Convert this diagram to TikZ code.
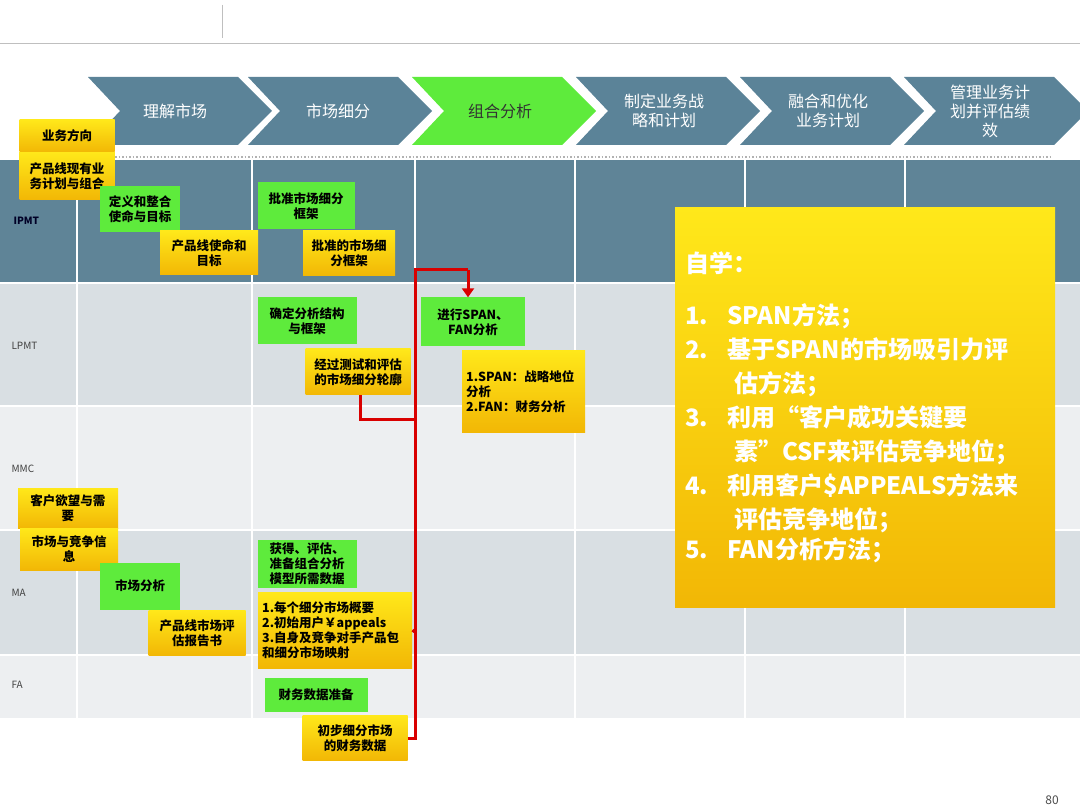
\documentclass[tikz,border=0pt]{standalone}
\usepackage{fontspec}
\setmainfont{Noto Sans CJK SC}
\usetikzlibrary{arrows.meta}
\definecolor{slate}{HTML}{5B8398}
\definecolor{darkrow}{HTML}{5F8497}
\definecolor{grayrow}{HTML}{D9DFE3}
\definecolor{lightrow}{HTML}{EDEFF1}
\definecolor{gr}{HTML}{5EEB3C}
\definecolor{ytop}{HTML}{FFE81A}
\definecolor{ybot}{HTML}{F2B705}
\tikzset{
 note/.style={draw=none,top color=ytop,bottom color=ybot,align=center,font=\fontsize{12.5}{15}\selectfont\bfseries,inner sep=1pt},
 gbox/.style={fill=gr,align=center,font=\fontsize{12.5}{15}\selectfont\bfseries,inner sep=1pt},
 rowlab/.style={anchor=west,font=\fontsize{10}{11}\selectfont,text=black!75},
 chevtxt/.style={text=white,align=center,font=\fontsize{16}{19}\selectfont},
 redline/.style={draw=red!85!black,line width=3pt}
}
\begin{document}
\begin{tikzpicture}[x=1pt,y=-1pt]
\useasboundingbox (0,0) rectangle (1080,810);
\fill[white] (0,0) rectangle (1080,810);
\draw[gray!50,line width=1pt] (0,44) -- (1080,44);
\draw[gray!50] (222,5) -- (222,38);
% chevrons
\foreach \s/\c in {88/slate,248/slate,412/gr,576/slate,740/slate,904/slate}{
 \fill[\c] (\s,77) -- (\s+150,77) -- (\s+184,111) -- (\s+150,145) -- (\s,145) -- (\s+32,111) -- cycle;}
\node[chevtxt] (c1) at (175,111) {理解市场};
\node[chevtxt] (c2) at (338,111) {市场细分};
\node[chevtxt,text=black!80] (c3) at (500,111) {组合分析};
\node[chevtxt] (c4) at (664,111) {制定业务战\\略和计划};
\node[chevtxt] (c5) at (828,111) {融合和优化\\业务计划};
\node[chevtxt] (c6) at (990,111) {管理业务计\\划并评估绩\\效};
\draw[gray!60,dotted,line width=1.5pt] (115,157) -- (1050,157);
% rows
\fill[darkrow] (0,160) rectangle (1080,283);
\fill[grayrow] (0,283) rectangle (1080,406);
\fill[lightrow] (0,406) rectangle (1080,530);
\fill[grayrow] (0,530) rectangle (1080,655);
\fill[lightrow] (0,655) rectangle (1080,718);
\foreach \y in {283,406,530,655} \draw[white,line width=1.5pt] (0,\y) -- (1080,\y);
\foreach \x in {77,252,415,575,745,905} \draw[white,line width=1.5pt] (\x,160) -- (\x,718);
\node[rowlab,text=black!85!blue] (r1) at (10,221) {\bfseries IPMT};
\node[rowlab] (r2) at (8,346) {LPMT};
\node[rowlab] (r3) at (8,469) {MMC};
\node[rowlab] (r4) at (8,593) {MA};
\node[rowlab] (r5) at (8,685) {FA};
% notes
\node[note,minimum width=95,minimum height=48] (n2) at (67,176) {产品线现有业\\务计划与组合};
\node[note,minimum width=95,minimum height=32] (n1) at (67,136) {业务方向};
\node[gbox,minimum width=80,minimum height=46] (g1) at (140,209) {定义和整合\\使命与目标};
\node[note,minimum width=98,minimum height=44] (n3) at (209,253) {产品线使命和\\目标};
\node[gbox,minimum width=97,minimum height=47] (g2) at (306,206) {批准市场细分\\框架};
\node[note,minimum width=92,minimum height=45] (n4) at (349,253) {批准的市场细\\分框架};
\node[gbox,minimum width=99,minimum height=47] (g3) at (307,321) {确定分析结构\\与框架};
\node[note,minimum width=105,minimum height=46] (n5) at (358,372) {经过测试和评估\\的市场细分轮廓};
\node[gbox,minimum width=104,minimum height=49] (g4) at (473,322) {进行SPAN、\\FAN分析};
\node[note,minimum width=121,minimum height=82,align=left,anchor=north west,text width=115,inner sep=4pt] (n6) at (462,350) {1.SPAN：战略地位\\分析\\2.FAN：财务分析};
\node[note,minimum width=100,minimum height=40] (n7) at (68,508) {客户欲望与需\\要};
\node[note,minimum width=98,minimum height=42] (n8) at (69,549) {市场与竞争信\\息};
\node[gbox,minimum width=80,minimum height=47] (g5) at (140,586) {市场分析};
\node[note,minimum width=97,minimum height=45] (n9) at (197,633) {产品线市场评\\估报告书};
\node[gbox,minimum width=99,minimum height=48] (g6) at (307,564) {获得、评估、\\准备组合分析\\模型所需数据};
\node[note,anchor=north west,minimum width=152,minimum height=76,align=left,text width=146,inner sep=4pt] (n10) at (258,592) {1.每个细分市场概要\\2.初始用户￥appeals\\3.自身及竞争对手产品包\\和细分市场映射};
\node[gbox,minimum width=103,minimum height=34] (g7) at (316,695) {财务数据准备};
\node[note,minimum width=105,minimum height=45] (n11) at (355,738) {初步细分市场\\的财务数据};
% red connector
\coordinate (top) at (415,270);
\coordinate (mid) at (415,420);
\draw[redline] (n11.east) -- (415,738) -- (top) -- (468,270);
\draw[redline,-{Triangle[length=9pt,width=12pt]}] (468,270) -- (g4.north -| 468,0);
\draw[redline] (n5.south -| 360,0) -- (360,420) -- (mid);
\draw[redline] (n10.east) -- (415,632);
% big box
\node[note,anchor=north west,minimum width=378,minimum height=400,text width=360,align=left,font=\fontsize{21}{30}\selectfont\bfseries,text=white,inner sep=10pt] (big) at (675,207) {\fontsize{24}{34}\selectfont 自学：\\[18pt]
1.\hspace{0.8em}SPAN方法；\\
2.\hspace{0.8em}基于SPAN的市场吸引力评\\\hspace{2.05em}估方法；\\
3.\hspace{0.8em}利用“客户成功关键要\\\hspace{2.05em}素”CSF来评估竞争地位；\\
4.\hspace{0.8em}利用客户\$APPEALS方法来\\\hspace{2.05em}评估竞争地位；\\
5.\hspace{0.8em}FAN分析方法；};
\node[font=\fontsize{12}{14}\selectfont,text=black!70] (pg) at (1052,800) {80};
\end{tikzpicture}
\end{document}
